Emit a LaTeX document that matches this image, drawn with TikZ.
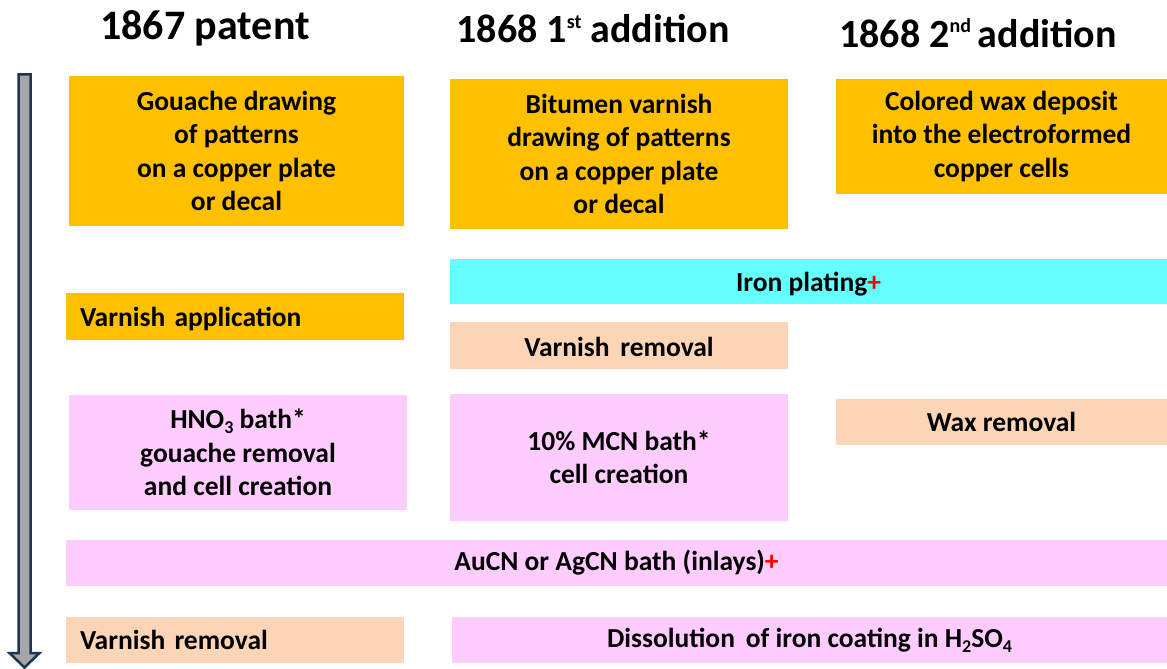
\documentclass[tikz,border=0pt]{standalone}
\usepackage{fontspec}
\setmainfont{Carlito}
\definecolor{cOrange}{HTML}{FFC000}
\definecolor{cCyan}{HTML}{66FFFF}
\definecolor{cPeach}{HTML}{FBD5B5}
\definecolor{cPink}{HTML}{FFCCFF}
\definecolor{cNavy}{HTML}{1F3550}
\definecolor{cGray}{HTML}{A6A6A6}
\newcommand{\bodyfont}{\fontsize{27.5}{33.5}\selectfont\bfseries}
\newcommand{\headfont}{\fontsize{40}{44}\selectfont\bfseries}
\newcommand{\supx}[1]{\raisebox{0.36em}{\fontsize{20}{20}\selectfont #1}}
\newcommand{\subx}[1]{\raisebox{-0.18em}{\fontsize{18}{18}\selectfont #1}}
\newcommand{\redplus}{\textcolor{red}{+}}
\newcommand{\lowered}[2]{\raisebox{-#1}[\height][\depth]{#2}}
\tikzset{
  stepbox/.style={inner sep=0pt, align=center, font=\bodyfont, text=black},
  leftbox/.style={inner xsep=14pt, inner ysep=0pt, align=left, font=\bodyfont, text=black},
  headtext/.style={inner sep=0pt, font=\headfont, text=black},
}
\begin{document}
\begin{tikzpicture}[x=1pt,y=-1pt]
\useasboundingbox (0,0) rectangle (1167,669);
\fill[white] (0,0) rectangle (1167,669);
% headers
\node[headtext, font=\fontsize{42}{46}\selectfont\bfseries] (h1) at (205,28) {1867 patent};
\node[headtext] (h2) at (593,29) {1868 1\supx{st} addition};
\node[headtext] (h3) at (978,33) {1868 2\supx{nd}\,addition};
% boxes
\node[stepbox, fill=cOrange, minimum width=335pt, minimum height=150pt] (n1) at (236.5,151) {Gouache drawing\\of patterns\\on a copper plate\\or decal};
\node[stepbox, fill=cOrange, minimum width=338pt, minimum height=150pt] (n2) at (619,154) {Bitumen varnish\\drawing of patterns\\on a copper plate\\or decal};
\node[stepbox, fill=cOrange, minimum width=331pt, minimum height=115pt] (n3) at (1001.5,136.5) {Colored wax deposit\\into the electroformed\\copper cells};
\node[stepbox, fill=cCyan, minimum width=717pt, minimum height=45pt] (iron) at (808.5,281.5) {\lowered{3pt}{Iron plating\redplus}};
\node[leftbox, fill=cOrange, text width=310pt, minimum height=47pt] (va) at (235,316.5) {\lowered{2.5pt}{Varnish application}};
\node[stepbox, fill=cPeach, minimum width=338pt, minimum height=47pt] (vr2) at (619,345.5) {\lowered{1pt}{Varnish \,removal}};
\node[stepbox, fill=cPink, minimum width=338pt, minimum height=115pt] (hno) at (238,452.5) {HNO\subx{3} bath*\\gouache removal\\and cell creation};
\node[stepbox, fill=cPink, minimum width=338pt, minimum height=127pt] (mcn) at (619,457.5) {10\% MCN bath*\\cell creation};
\node[stepbox, fill=cPeach, minimum width=331pt, minimum height=46pt] (wax) at (1001.5,422) {Wax removal};
\node[stepbox, fill=cPink, minimum width=1101pt, minimum height=46pt] (au) at (616.5,563) {AuCN or AgCN bath (inlays)\redplus};
\node[leftbox, fill=cPeach, text width=310pt, minimum height=46pt] (vr3) at (235,640) {Varnish removal};
\node[stepbox, fill=cPink, minimum width=715pt, minimum height=46pt] (dis) at (809.5,640) {Dissolution \,of iron coating in H\subx{2}SO\subx{4}};
% time arrow
\filldraw[fill=cGray, draw=cNavy, line width=2.5pt, line join=miter]
  (18.5,74.5) -- (30.5,74.5) -- (30.5,653) -- (39.5,653) -- (24.5,667.5)
  -- (9.5,653) -- (18.5,653) -- cycle;
\end{tikzpicture}
\end{document}
